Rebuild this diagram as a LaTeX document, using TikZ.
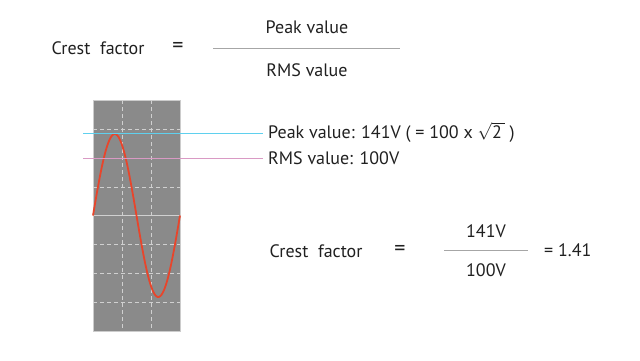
\documentclass[tikz,border=0pt]{standalone}
\usepackage{fontspec}
\setmainfont{PT Sans}
\definecolor{scopegray}{HTML}{8A8A8A}
\definecolor{gridgray}{HTML}{D0D0D0}
\definecolor{wavered}{HTML}{E8452B}
\definecolor{peakcyan}{HTML}{5FD0EE}
\definecolor{rmspink}{HTML}{D99AC4}
\definecolor{textgray}{HTML}{202020}
\tikzset{
  txt/.style={inner sep=0pt, text=textgray, font=\fontsize{18}{21}\selectfont},
  eqsign/.style={txt, font=\fontsize{22}{24}\selectfont},
  fracbar/.style={draw=gray!70, line width=0.8pt},
  grid line/.style={draw=gridgray, dashed, dash pattern=on 4pt off 3pt, line width=0.7pt},
}
\begin{document}
\begin{tikzpicture}[x=1pt, y=-1pt]
\useasboundingbox (0,0) rectangle (640,360);

     % definition
     \node[txt] (crest1) at (98,48) {Crest\ \ factor};
     \node[eqsign] (eq1) at (178,47) {=};
     \node[txt] (num1) at (307,27) {Peak value};
     \node[txt] (den1) at (307,70) {RMS value};
     \draw[fracbar] (213,48) -- (400,48);

     % scope screen
     \draw[fill=scopegray, draw=gray!40, line width=0.8pt] (93,100) rectangle (180,331);
     \foreach \gx in {122,151}
        \draw[grid line] (\gx,100) -- (\gx,331);
     \foreach \gy in {129,187,244,273,302}
        \draw[grid line] (93,\gy) -- (180,\gy);
     \draw[gridgray, line width=1.5pt] (93,215.5) -- (180,215.5);

     % wave
     \draw[wavered, line width=1.8pt] plot[domain=0:360, samples=90, smooth]
        ({93+\x/360*87}, {215.5-81.5*sin(\x)});

     % levels
     \node[txt, anchor=west] (peak) at (268,132) {Peak value: 141V ( = 100 x $\sqrt{\mbox{2\,}}$ )};
     \node[txt, anchor=west] (rms) at (268,158) {RMS value: 100V};
     \coordinate (peakL) at (83,133.5);
     \coordinate (rmsL) at (83,158);
     \draw[peakcyan, line width=0.6pt] (peakL) -- ([xshift=-5pt]peakL -| peak.west);
     \draw[rmspink, line width=0.6pt] (rmsL) -- ([xshift=-5pt]rmsL -| rms.west);

     % result
     \node[txt] (crest2) at (316,251) {Crest\ \ factor};
     \node[eqsign] (eq2) at (400,250) {=};
     \node[txt] (num2) at (486,231) {141V};
     \node[txt] (den2) at (486,270) {100V};
     \draw[fracbar] (444,250) -- (528,250);
     \node[txt, anchor=west] (res) at (544,250) {= 1.41};

\end{tikzpicture}
\end{document}
